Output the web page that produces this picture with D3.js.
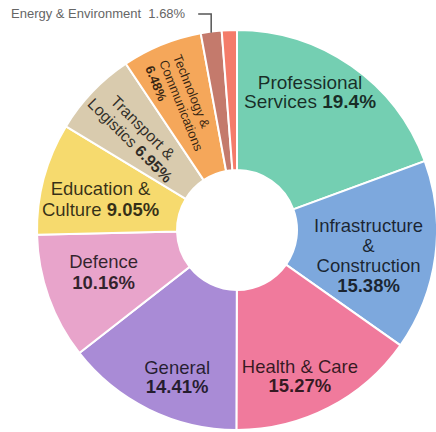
<!DOCTYPE html>
<html>
<head>
<meta charset="utf-8">
<script src="https://cdn.jsdelivr.net/npm/d3@7"></script>
<style>
  body { margin: 0; background: #fff; }
  svg { display: block; font-family: "Liberation Sans", Arial, sans-serif; }
</style>
</head>
<body>
<script>
// data
var categories = ['Professional Services', 'Infrastructure & Construction', 'Health & Care', 'General',
                  'Defence', 'Education & Culture', 'Transport & Logistics', 'Technology & Communications',
                  'Energy & Environment', 'Other'];
var shares = [19.4, 15.38, 15.27, 14.41, 10.16, 9.05, 6.95, 6.48, 1.68, 1.22];
var colours = ['#74cfb2', '#7da8dd', '#f07a9c', '#a98bd6', '#e8a4cb', '#f6da6e', '#d9cbae', '#f5a75a', '#c47a6c', '#f47c6a'];

// label text, broken into lines; second piece of a line is the bold percent
var labelLines = [
  [['Professional'], ['Services ', '19.4%']],
  [['Infrastructure'], ['&'], ['Construction'], ['', '15.38%']],
  [['Health & Care'], ['', '15.27%']],
  [['General'], ['', '14.41%']],
  [['Defence'], ['', '10.16%']],
  [['Education &'], ['Culture ', '9.05%']],
  [['Transport &'], ['Logistics ', '6.95%']],
  [['Technology &'], ['Communications'], ['', '6.48%']],
  null,
  null
];

// label placement: angle shift (deg) from slice middle, radius, rotation, size
var labelLayout = [
  {da: -7, r: 156, rot: 0, size: 19, lh: 19},
  {da: 3.5, r: 134, rot: 0, size: 18.5, lh: 20},
  {da: 4, r: 159, rot: 0, size: 18.5, lh: 19},
  {da: -4, r: 159, rot: 0, size: 18.5, lh: 19},
  {da: 2, r: 140, rot: 0, size: 18.5, lh: 21},
  {da: -2, r: 140, rot: 0, size: 18.5, lh: 21},
  {da: 0, r: 139, rot: 45, size: 16, lh: 18},
  {da: -2, r: 138, rot: 68, size: 13, lh: 15, anchor: 'start'},
  null,
  null
];

var width = 436, height = 432;
var cx = 237, cy = 230;
var outerR = 200, innerR = 60;

var svg = d3.select('body').append('svg')
    .attr('width', width)
    .attr('height', height);

var g = svg.append('g')
    .attr('transform', 'translate(' + cx + ',' + cy + ')');

var rows = categories.map(function(c, i) {
  return {name: c, value: shares[i], colour: colours[i], lines: labelLines[i], layout: labelLayout[i]};
});

var pie = d3.pie().sort(null).value(function(d) { return d.value; });
var arc = d3.arc().innerRadius(innerR).outerRadius(outerR);
var arcs = pie(rows);

g.selectAll('path.slice')
    .data(arcs)
    .enter().append('path')
    .attr('class', 'slice')
    .attr('d', arc)
    .attr('fill', function(d) { return d.data.colour; })
    .attr('stroke', '#fff')
    .attr('stroke-width', 2);

function polar(angle, r) {
  return d3.arc().innerRadius(r).outerRadius(r).startAngle(angle).endAngle(angle).centroid();
}

// in-slice labels
arcs.forEach(function(d) {
  if (!d.data.lines) return;
  var L = d.data.layout;
  var mid = (d.startAngle + d.endAngle) / 2 + L.da * Math.PI / 180;
  var p = polar(mid, L.r);
  var n = d.data.lines.length;
  var anchor = L.anchor || 'middle';
  var t = g.append('text')
      .attr('transform', 'translate(' + p[0] + ',' + p[1] + ') rotate(' + L.rot + ')')
      .attr('text-anchor', anchor)
      .attr('font-size', L.size)
      .attr('fill', '#000')
      .attr('fill-opacity', 0.78);
  var x0 = anchor === 'start' ? -L.size * 3.6 : 0;
  d.data.lines.forEach(function(line, k) {
    var y = (k - (n - 1) / 2) * L.lh + L.size * 0.35;
    var ts = t.append('tspan').attr('x', x0).attr('y', y);
    if (line[0]) ts.append('tspan').text(line[0]);
    if (line[1]) ts.append('tspan').attr('font-weight', 'bold').text(line[1]);
  });
});

// outside label for the thin energy slice
var energy = arcs[8];
var eMid = (energy.startAngle + energy.endAngle) / 2;
var ep = polar(eMid, outerR);
var labelY = 14 - cy;
svg.append('path')
    .attr('transform', 'translate(' + cx + ',' + cy + ')')
    .attr('d', 'M' + ep[0] + ',' + (ep[1] + 1) + 'V' + labelY + 'H' + (ep[0] - 13))
    .attr('fill', 'none')
    .attr('stroke', '#555')
    .attr('stroke-width', 1.5);
svg.append('text')
    .attr('x', cx + ep[0] - 26)
    .attr('y', cy + labelY + 4)
    .attr('text-anchor', 'end')
    .attr('font-size', 13)
    .attr('fill', '#666')
    .style('white-space', 'pre')
    .text(energy.data.name + '  ' + energy.data.value.toFixed(2) + '%');
</script>
</body>
</html>
